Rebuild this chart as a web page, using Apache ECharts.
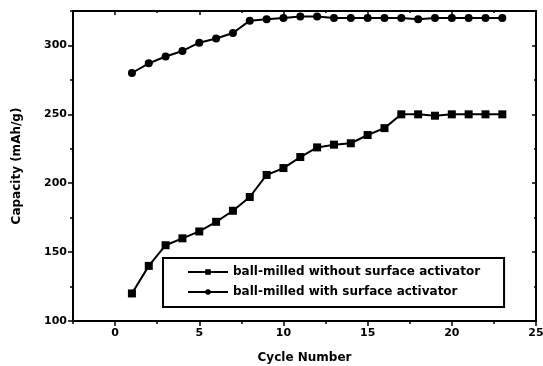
<!DOCTYPE html>
<html>
<head>
<meta charset="utf-8">
<script src="https://cdn.jsdelivr.net/npm/echarts@6/dist/echarts.min.js"></script>
<style>
  html, body { margin: 0; padding: 0; background: #fff; }
  #chart { width: 543px; height: 366px; }
</style>
</head>
<body>
<div id="chart"></div>
<script>
  // cycle numbers
  const cycles = [1, 2, 3, 4, 5, 6, 7, 8, 9, 10, 11, 12, 13, 14, 15, 16, 17, 18, 19, 20, 21, 22, 23]
  // ball-milled without surface activator (squares)
  const withoutActivator = [120, 140, 155, 160, 165, 172, 180, 190, 206, 211, 219, 226, 228, 229, 235, 240, 250, 250, 249, 250, 250, 250, 250]
  // ball-milled with surface activator (circles)
  const withActivator = [280, 287, 292, 296, 302, 305, 309, 318, 319, 320, 321, 321, 320, 320, 320, 320, 320, 319, 320, 320, 320, 320, 320]
  const xTicks = [0, 5, 10, 15, 20, 25]
  const xMinor = [-2.5, 2.5, 7.5, 12.5, 17.5, 22.5]
  const yTicks = [100, 150, 200, 250, 300]
  const yMinor = [125, 175, 225, 275, 325]

  const nameWithout = 'ball-milled without surface activator'
  const nameWith = 'ball-milled with surface activator'

  const chart = echarts.init(document.getElementById('chart'))
  const font = 'DejaVu Sans, Arial, sans-serif'

  function pairs(ys) {
    return cycles.map((c, i) => [c, ys[i]])
  }

  function xAxisDef(pos, ticks, len, inside, showLine, showLabel) {
    return {
      type: 'value', position: pos, min: -2.5, max: 25,
      axisLine: { show: showLine, onZero: false, lineStyle: { color: '#000', width: 2 } },
      axisTick: { show: true, inside: inside, length: len, customValues: ticks, lineStyle: { color: '#000', width: 1.5 } },
      axisLabel: { show: showLabel, customValues: ticks, color: '#000', fontFamily: font, fontWeight: 'bold', fontSize: 11, margin: 7 },
      splitLine: { show: false }
    }
  }
  function yAxisDef(pos, ticks, len, inside, showLine, showLabel) {
    return {
      type: 'value', position: pos, min: 100, max: 325,
      axisLine: { show: showLine, onZero: false, lineStyle: { color: '#000', width: 2 } },
      axisTick: { show: true, inside: inside, length: len, customValues: ticks, lineStyle: { color: '#000', width: 1.5 } },
      axisLabel: { show: showLabel, customValues: ticks, color: '#000', fontFamily: font, fontWeight: 'bold', fontSize: 11, margin: 6 },
      splitLine: { show: false }
    }
  }

  const xAxes = [
    xAxisDef('bottom', xTicks, 5, false, true, true),
    xAxisDef('bottom', xMinor, 3, false, false, false),
    xAxisDef('top', xTicks, 4, true, true, false),
    xAxisDef('top', xMinor, 2, true, false, false)
  ]
  xAxes[0].name = 'Cycle Number'
  xAxes[0].nameLocation = 'middle'
  xAxes[0].nameGap = 31
  xAxes[0].nameTextStyle = { color: '#000', fontFamily: font, fontWeight: 'bold', fontSize: 12 }

  const yAxes = [
    yAxisDef('left', yTicks, 5, false, true, true),
    yAxisDef('left', yMinor, 3, false, false, false),
    yAxisDef('right', yTicks, 4, true, true, false),
    yAxisDef('right', yMinor, 2, true, false, false)
  ]
  yAxes[0].name = 'Capacity (mAh/g)'
  yAxes[0].nameLocation = 'middle'
  yAxes[0].nameGap = 50
  yAxes[0].nameTextStyle = { color: '#000', fontFamily: font, fontWeight: 'bold', fontSize: 12 }

  const option = {
    backgroundColor: '#fff',
    animation: false,
    grid: { left: 73, right: 7, top: 11, bottom: 45, outerBoundsMode: 'none' },
    legend: {
      orient: 'vertical',
      left: 163, top: 258,
      padding: [8, 24, 9, 24],
      itemGap: 8,
      itemWidth: 40,
      itemHeight: 7,
      borderColor: '#000',
      borderWidth: 2,
      borderRadius: 0,
      textStyle: { color: '#000', fontFamily: font, fontWeight: 'bold', fontSize: 12 },
      data: [nameWithout, nameWith]
    },
    xAxis: xAxes,
    yAxis: yAxes,
    series: [
      {
        name: nameWithout, type: 'line', data: pairs(withoutActivator),
        symbol: 'rect', symbolSize: 8,
        lineStyle: { color: '#000', width: 2 },
        itemStyle: { color: '#000' }
      },
      {
        name: nameWith, type: 'line', data: pairs(withActivator),
        symbol: 'circle', symbolSize: 8,
        lineStyle: { color: '#000', width: 2 },
        itemStyle: { color: '#000' }
      }
    ]
  }
  chart.setOption(option)
</script>
</body>
</html>
